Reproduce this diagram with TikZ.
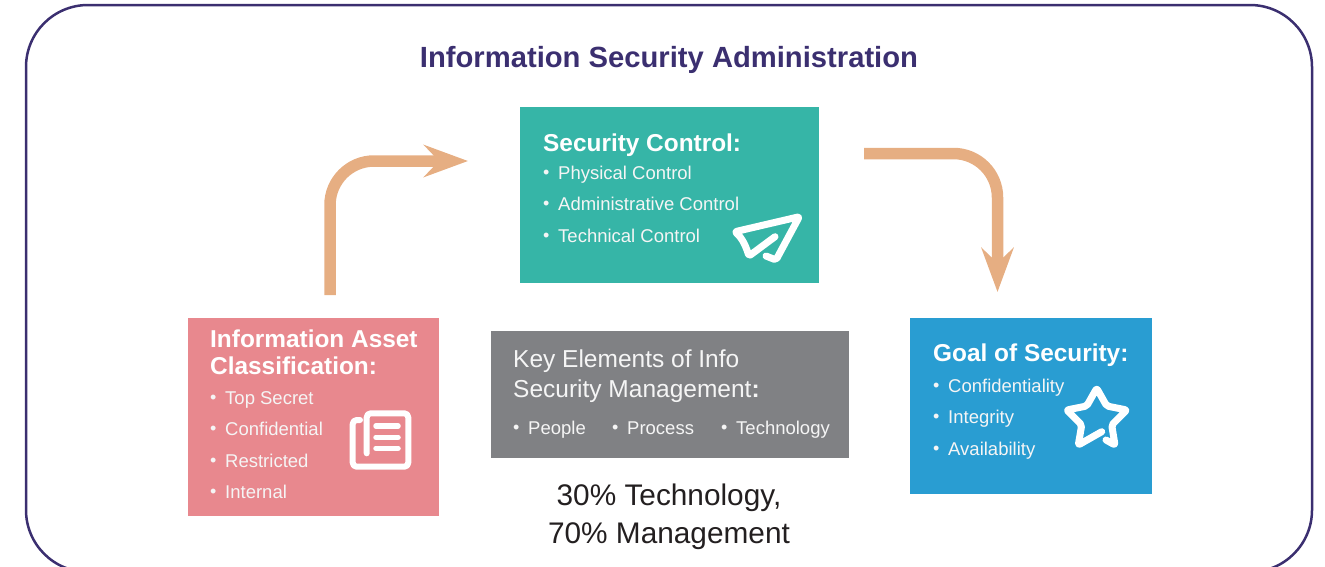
\documentclass[tikz,border=0pt]{standalone}
\usepackage{fontspec}
\setmainfont{Liberation Sans}
\definecolor{FrameInk}{RGB}{59, 47, 112}
\definecolor{ArrowTan}{RGB}{230, 174, 130}
\definecolor{ControlTeal}{RGB}{54, 181, 167}
\definecolor{AssetRose}{RGB}{232, 136, 142}
\definecolor{KeyGray}{RGB}{128, 129, 132}
\definecolor{GoalBlue}{RGB}{41, 157, 210}
\definecolor{BodyInk}{RGB}{35, 31, 32}
\definecolor{SoftWhite}{RGB}{245, 245, 245}
\usetikzlibrary{arrows.meta, positioning}

\begin{document}
\begin{tikzpicture}[
        x=1pt, y=-1pt,
        block/.style={rectangle, draw=none, inner sep=0pt, anchor=north west},
        heading/.style={anchor=base west, inner sep=0pt, text=white, font=\fontsize{24.4}{27}\selectfont\bfseries},
        item/.style={anchor=base west, inner sep=0pt, text=SoftWhite, font=\fontsize{18.5}{22}\selectfont},
        dot/.style={anchor=base west, inner sep=0pt, text=SoftWhite, font=\fontsize{18}{22}\selectfont},
        arrow/.style={draw=ArrowTan, line width=11.5pt, rounded corners=44pt, -{Stealth[length=44pt, width=32pt, inset=15pt]}},
        icon/.style={draw=white, line width=7pt, line cap=round, line join=round}
    ]
        \useasboundingbox (0,0) rectangle (1325,566);
        \draw[FrameInk, line width=2.5pt, rounded corners=62pt] (26,5) rectangle (1312,572);

        \node[anchor=base, inner sep=0pt, text=FrameInk, font=\fontsize{29.2}{32}\selectfont\bfseries] (title) at (669,67) {Information Security Administration};

        % boxes
        \node[block, fill=ControlTeal, minimum width=299pt, minimum height=176pt] (control) at (520,107) {};
        \node[block, fill=AssetRose, minimum width=251pt, minimum height=198pt] (asset) at (188,318) {};
        \node[block, fill=KeyGray, minimum width=358pt, minimum height=127pt] (key) at (491,331) {};
        \node[block, fill=GoalBlue, minimum width=242pt, minimum height=176pt] (goal) at (910,318) {};

        % headings
        \node[heading] (controlhead) at (543,151) {Security Control:};
        \node[heading] (assethead) at (210,347) {Information Asset};
        \node[heading] (assethead2) at (210,374) {Classification:};
        \node[heading] (goalhead) at (933,361) {Goal of Security:};
        \node[item, font=\fontsize{24.5}{27}\selectfont] (keyhead) at (513,367) {Key Elements of Info};
        \node[item, font=\fontsize{24.5}{27}\selectfont] (keyhead2) at (513,397) {Security Management\textbf{:}};

        % bullet lists
        \foreach \label/\ypos [count=\i] in {Physical Control/179, Administrative Control/210, Technical Control/242} {
            \node[dot] (controldot\i) at (543,\ypos-1) {•};
            \node[item] (controlitem\i) at (558,\ypos) {\label};
        }
        \foreach \label/\ypos [count=\i] in {Top Secret/404, Confidential/435, Restricted/467, Internal/498} {
            \node[dot] (assetdot\i) at (210,\ypos-1) {•};
            \node[item] (assetitem\i) at (225,\ypos) {\label};
        }
        \foreach \label/\ypos [count=\i] in {Confidentiality/392, Integrity/423, Availability/455} {
            \node[dot] (goaldot\i) at (933,\ypos-1) {•};
            \node[item] (goalitem\i) at (948,\ypos) {\label};
        }
        \foreach \label/\xpos [count=\i] in {People/513, Process/612, Technology/721} {
            \node[dot] (keydot\i) at (\xpos,433) {•};
            \node[item] (keyitem\i) at (\xpos+15,434) {\label};
        }

        \node[anchor=base, inner sep=0pt, text=BodyInk, font=\fontsize{29.8}{32}\selectfont] (ratio) at (669,505) {30\% Technology,};
        \node[anchor=base, inner sep=0pt, text=BodyInk, font=\fontsize{29.8}{32}\selectfont] (ratio2) at (669,543) {70\% Management};

        % arrows
        \coordinate (assetout) at (330,295);
        \coordinate (controlin) at (468,161);
        \coordinate (controlout) at (864,153.5);
        \coordinate (goalin) at (997.5,292);
        \draw[arrow] (assetout) |- (controlin);
        \draw[arrow] (controlout) -| (goalin);

        % icons
        \draw[icon, rounded corners=2pt] (775,236.7) -- (749,256) .. controls (746,247) and (743,239) .. (735,231.7) -- (799.3,216.7) -- (776,260) -- (766,256);
        \draw[icon, line width=6pt, rounded corners=4pt] (366.7,453.3) -- (366.7,413.3) -- (408.3,413.3) -- (408.3,466.7) -- (352.7,466.7) -- (352.7,420) -- (360,420);
        \foreach \ypos in {426,437.3,448.3} {
            \draw[icon, line width=5.5pt] (376,\ypos) -- (398,\ypos);
        }
        \draw[icon, rounded corners=2pt] (1101.7,431.7) -- (1078.3,445) -- (1081.7,425) -- (1066.7,410) -- (1086.7,406) -- (1096.7,388.3) -- (1106.7,406) -- (1126.7,410) -- (1111.7,425) -- (1115,445) -- (1106,440);
    \end{tikzpicture}
\end{document}
